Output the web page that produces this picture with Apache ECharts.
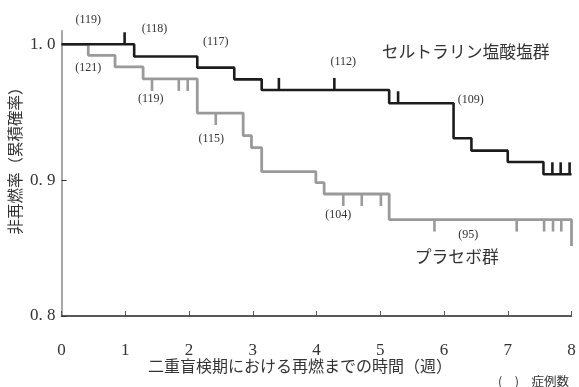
<!DOCTYPE html>
<html>
<head>
<meta charset="utf-8">
<script src="https://cdn.jsdelivr.net/npm/echarts@6/dist/echarts.min.js"></script>
<style>
  html, body { margin: 0; padding: 0; background: #fff; }
  #chart { width: 579px; height: 387px; }
</style>
</head>
<body>
<div id="chart"></div>
<script>
// Kaplan–Meier step data (time in weeks, cumulative non-relapse rate)
const sertralineTimes = [0, 1.14, 2.13, 2.71, 3.14, 5.14, 6.15, 6.43, 7.00, 7.56, 8.0];
const sertralineSurv  = [1.0, 0.991, 0.9828, 0.9742, 0.9664, 0.9566, 0.9308, 0.9217, 0.9134, 0.9043, 0.9043];
const placeboTimes = [0, 0.42, 0.84, 1.28, 2.13, 2.85, 2.98, 3.14, 3.99, 4.12, 5.14, 8.0];
const placeboSurv  = [1.0, 0.9919, 0.9833, 0.9745, 0.9494, 0.9327, 0.9239, 0.9062, 0.8981, 0.8898, 0.8710, 0.8515];

// censored observations (weeks)
const sertralineCensor = [0.99, 3.41, 4.28, 5.28, 7.70, 7.83, 7.97];
const placeboCensor = [1.42, 1.84, 1.98, 2.42, 4.42, 4.71, 5.01, 5.85, 7.14, 7.57, 7.71, 7.84];

// numbers at risk
const riskLabels = ['(119)', '(118)', '(117)', '(121)', '(119)', '(115)', '(112)', '(109)', '(104)', '(95)'];
// where each number-at-risk label sits, in [week, rate] space
const riskAnchors = [[0.42, 1.0179], [1.46, 1.011], [2.42, 1.0015], [0.42, 0.9828], [1.40, 0.9595],
                     [2.35, 0.9301], [4.42, 0.9868], [6.42, 0.9594], [4.34, 0.8743], [6.38, 0.8596]];

const groupNames = ['セルトラリン塩酸塩群', 'プラセボ群'];
const groupAnchors = [[6.34, 0.9946], [6.20, 0.8434]];

const xTicks = [0, 1, 2, 3, 4, 5, 6, 7, 8];
const yTicks = [0.8, 0.9, 1.0];
const yTickLabels = ['0. 8', '0. 9', '1. 0'];

const xTitle = '二重盲検期における再燃までの時間（週）';
const yTitle = '非再燃率（累積確率）';
const noteText = '(　)　症例数';

const SERT_COLOR = '#1c1c1c';
const PLAC_COLOR = '#9a9a9a';
const NUM_FONT = '"Liberation Serif", "DejaVu Serif", serif';
const JP_FONT = '"Noto Sans CJK JP", "Noto Sans", sans-serif';

function survAt(times, surv, t) {
  let v = surv[0];
  for (let i = 0; i < times.length; i++) {
    if (times[i] <= t) v = surv[i];
  }
  return v;
}

function zip(a, b) { return a.map((x, i) => [x, b[i]]); }

function censorSeries(times, surv, censor, color, dir) {
  return {
    type: 'custom',
    clip: false,
    z: 4,
    data: censor.map(t => [t, survAt(times, surv, t)]),
    renderItem: function (params, api) {
      const p = api.coord([api.value(0), api.value(1)]);
      return {
        type: 'line',
        shape: { x1: p[0], y1: p[1], x2: p[0], y2: p[1] + dir * 12 },
        style: { stroke: color, lineWidth: 2.6 }
      };
    }
  };
}

function textSeries(texts, anchors, font, size, color) {
  return {
    type: 'custom',
    clip: false,
    z: 6,
    data: anchors.map((a, i) => [a[0], a[1], i]),
    renderItem: function (params, api) {
      const p = api.coord([api.value(0), api.value(1)]);
      return {
        type: 'text',
        x: p[0], y: p[1],
        style: {
          text: texts[api.value(2)],
          fontFamily: font, fontSize: size, fill: color,
          align: 'center', verticalAlign: 'middle'
        }
      };
    }
  };
}

const chart = echarts.init(document.getElementById('chart'), null, { renderer: 'canvas' });

chart.setOption({
  animation: false,
  backgroundColor: '#ffffff',
  grid: { left: 61.5, right: 7.5, top: 30.7, bottom: 71 },
  xAxis: {
    type: 'value',
    min: 0, max: 8, interval: 1,
    axisLine: { show: true, lineStyle: { color: '#222', width: 1.5 } },
    axisTick: { show: true, inside: true, length: 5, lineStyle: { color: '#555', width: 1 } },
    axisLabel: {
      margin: 26,
      fontFamily: NUM_FONT, fontSize: 17, color: '#333',
      formatter: v => String(xTicks.find(t => Math.abs(t - v) < 1e-6) ?? '')
    },
    splitLine: { show: false }
  },
  yAxis: {
    type: 'value',
    min: 0.8, max: 1.01, interval: 0.1,
    axisLine: { show: true, lineStyle: { color: '#8a8a8a', width: 1.5 } },
    axisTick: { show: true, inside: true, length: 5, customValues: yTicks, lineStyle: { color: '#333', width: 1 } },
    axisLabel: {
      margin: 6,
      padding: [4, 0, 0, 0],
      fontFamily: NUM_FONT, fontSize: 17, color: '#333',
      customValues: yTicks,
      formatter: v => {
        const i = yTicks.findIndex(t => Math.abs(t - v) < 1e-6);
        return i >= 0 ? yTickLabels[i] : '';
      }
    },
    splitLine: { show: false }
  },
  graphic: [
    {
      type: 'text', x: 15, y: 157, rotation: Math.PI / 2,
      style: { text: yTitle, fontFamily: JP_FONT, fontSize: 15.5, fill: '#333', align: 'center', verticalAlign: 'middle' }
    },
    {
      type: 'text', x: 300, y: 366,
      style: { text: xTitle, fontFamily: JP_FONT, fontSize: 16, fill: '#333', align: 'center', verticalAlign: 'middle' }
    },
    {
      type: 'text', x: 498, y: 381,
      style: { text: noteText, fontFamily: JP_FONT, fontSize: 12.5, fill: '#333', align: 'left', verticalAlign: 'middle' }
    }
  ],
  series: [
    {
      name: groupNames[1], type: 'line', step: 'end', showSymbol: false, z: 2,
      data: zip(placeboTimes, placeboSurv),
      lineStyle: { color: PLAC_COLOR, width: 2.8 }
    },
    {
      name: groupNames[0], type: 'line', step: 'end', showSymbol: false, z: 3,
      data: zip(sertralineTimes, sertralineSurv),
      lineStyle: { color: SERT_COLOR, width: 2.6 }
    },
    censorSeries(placeboTimes, placeboSurv, placeboCensor, PLAC_COLOR, 1),
    censorSeries(sertralineTimes, sertralineSurv, sertralineCensor, SERT_COLOR, -1),
    textSeries(riskLabels, riskAnchors, NUM_FONT, 12, '#333'),
    textSeries(groupNames, groupAnchors, JP_FONT, 16.8, '#333')
  ]
});
</script>
</body>
</html>
